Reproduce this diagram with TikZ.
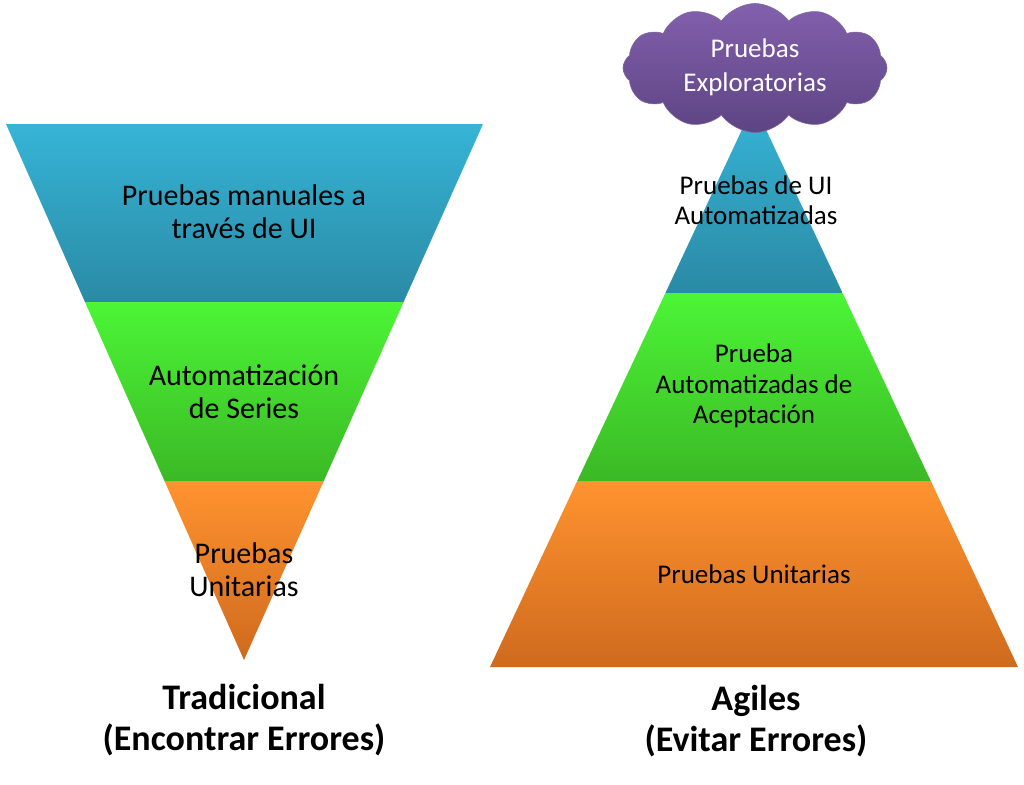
\documentclass[tikz,border=0pt]{standalone}
\usepackage{fontspec}
\setmainfont{Carlito}
\usetikzlibrary{shapes.symbols}

\definecolor{azulA}{HTML}{36B4D6}
\definecolor{azulB}{HTML}{2A8AA5}
\definecolor{verdeA}{HTML}{4CF536}
\definecolor{verdeB}{HTML}{3BB925}
\definecolor{naranjaA}{HTML}{FF932F}
\definecolor{naranjaB}{HTML}{CF6A1E}
\definecolor{moradoA}{HTML}{8360AD}
\definecolor{moradoB}{HTML}{5D4483}

\tikzset{
  capa/.style={align=center, text=black, font=\fontsize{30}{33}\selectfont},
  capachica/.style={align=center, text=black, font=\fontsize{27}{30.5}\selectfont},
  titulo/.style={align=center, text=black, font=\bfseries\fontsize{36}{41}\selectfont},
}

\begin{document}
\begin{tikzpicture}[x=1pt, y=-1pt]
\useasboundingbox (0,0) rectangle (1024,784);
\shade[top color=azulA, bottom color=azulB] (6,124) -- (483,124) -- (403.6,302) -- (85,302) -- cycle;
\shade[top color=verdeA, bottom color=verdeB] (85,302) -- (403.6,302) -- (323.8,481) -- (164.5,481) -- cycle;
\shade[top color=naranjaA, bottom color=naranjaB] (164.5,481) -- (323.8,481) -- (244,660) -- cycle;
\shade[top color=azulA, bottom color=azulB] (754,104) -- (842.6,293) -- (665.4,293) -- cycle;
\shade[top color=verdeA, bottom color=verdeB] (665.4,293) -- (842.6,293) -- (930.8,481) -- (577.2,481) -- cycle;
\shade[top color=naranjaA, bottom color=naranjaB] (577.2,481) -- (930.8,481) -- (1018,667) -- (490,667) -- cycle;
\node[cloud, cloud puffs=12, cloud puff arc=110, aspect=2, minimum width=264pt, minimum height=129pt,
  inner sep=0pt, top color=moradoA, bottom color=moradoB, draw=moradoB!80!white, line width=0.6pt]
  (nube) at (755,68) {};
\node[capachica, text=white, font=\fontsize{27}{34}\selectfont] (exploratorias) at (755,67) {Pruebas\\Exploratorias};
\node[capa] (manuales) at (244,212) {Pruebas manuales a\\través de UI};
\node[capa] (series) at (244,392) {Automatización\\de Series};
\node[capa] (unitariasT) at (244,570) {Pruebas\\Unitarias};
\node[capachica] (uiauto) at (756,200) {Pruebas de UI\\Automatizadas};
\node[capachica] (aceptacion) at (754,386) {Prueba\\Automatizadas de\\Aceptación};
\node[capachica] (unitariasA) at (754,574) {Pruebas Unitarias};
\node[titulo] (tradicional) at (244,720) {Tradicional\\(Encontrar Errores)};
\node[titulo] (agiles) at (756,721) {Agiles\\(Evitar Errores)};
\end{tikzpicture}
\end{document}
